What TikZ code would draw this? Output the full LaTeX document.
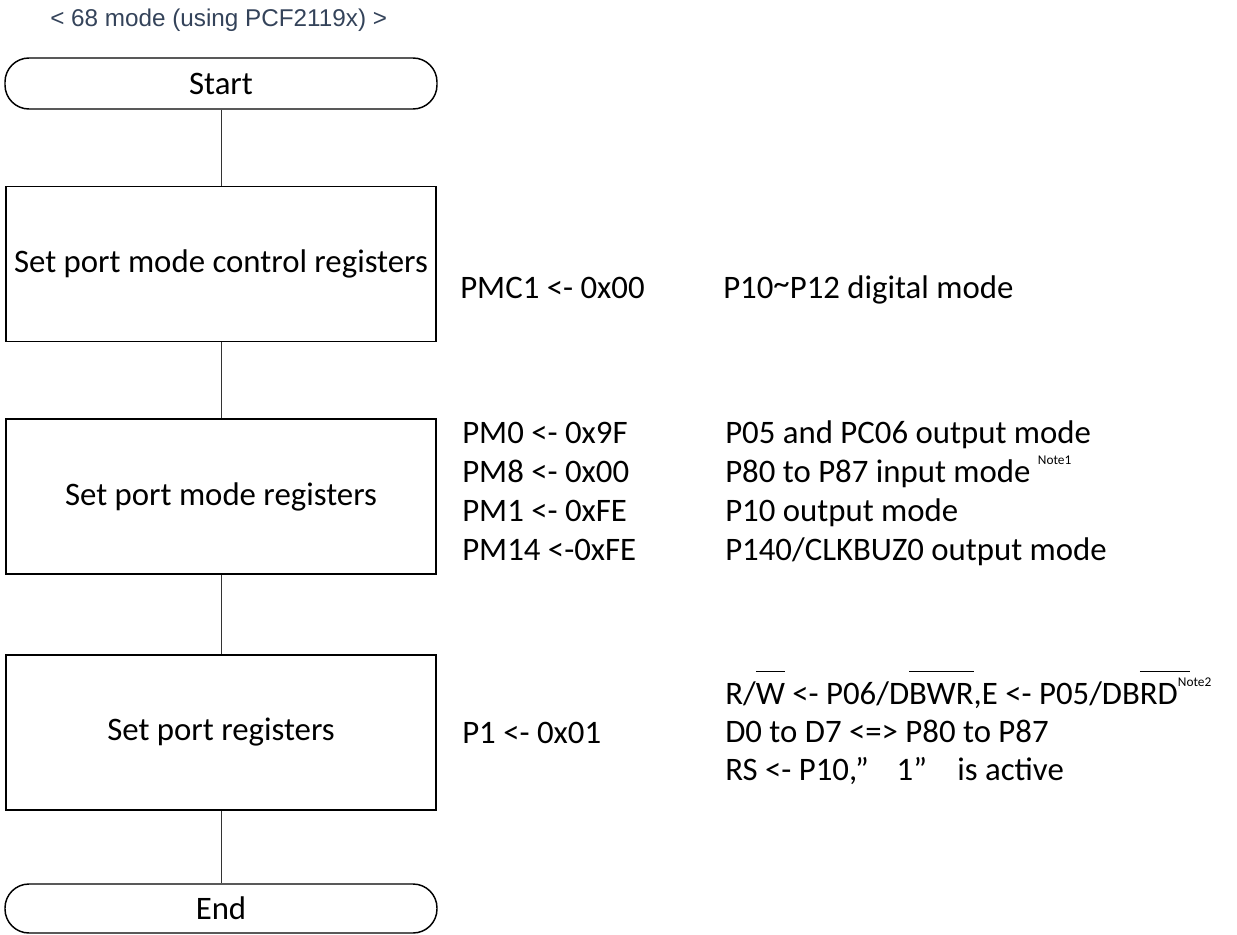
\documentclass[tikz,border=0pt]{standalone}
\usepackage{fontspec}
\setmainfont{Carlito}
\newfontfamily\titlefont{Liberation Sans}
\definecolor{titlecol}{HTML}{34435A}
\newcommand\barover[2][0pt]{\setbox0\hbox{#2}\rlap{\raisebox{0.98em}{\rule{\dimexpr\wd0+#1\relax}{0.8pt}}}\box0\relax}
\newcommand\notemark[1]{\raisebox{13.5pt}{\fontsize{10}{12}\selectfont #1}}
\begin{document}
\begin{tikzpicture}[x=0.75pt,y=-0.75pt,
  every node/.style={font=\fontsize{24.6}{29.3}\selectfont, inner sep=0pt},
  term/.style={draw, line width=1.1pt, rounded corners=18pt, minimum width=324pt, minimum height=38.25pt},
  proc/.style={draw, line width=1.1pt, minimum width=322.5pt, minimum height=116.5pt},
  link/.style={line width=0.7pt, draw=black!80},
  txt/.style={anchor=base west}]
\useasboundingbox (0,0) rectangle (1237,934);

\node[anchor=base west, text=titlecol, font=\titlefont\fontsize{18.2}{22}\selectfont] (title) at (50,27) {< 68 mode (using PCF2119x) >};

\node[term] (start) at (221,83.5) {Start};
\node[proc] (b1) at (221,264) {Set port mode control registers};
\node[proc] (b2) at (221,496.5) {Set port mode registers};
\node[proc] (b3) at (221,732.5) {Set port registers};
\node[term, minimum height=36.75pt] (end) at (221,908.5) {End};

\draw[link] (start) -- (b1);
\draw[link] (b1) -- (b2);
\draw[link] (b2) -- (b3);
\draw[link] (b3) -- (end);

\node[txt] (pmc) at (460,298) {PMC1 <- 0x00};
\node[txt] (pmcd) at (723,298) {P10\raisebox{0.12em}{\textasciitilde}P12 digital mode};

\node[txt] (pm0) at (462,443) {PM0 <- 0x9F};
\node[txt] (pm8) at (462,482) {PM8 <- 0x00};
\node[txt] (pm1) at (462,521) {PM1 <- 0xFE};
\node[txt] (pm14) at (462,560) {PM14 <-0xFE};
\node[txt] (d0) at (725,443) {P05 and PC06 output mode};
\node[txt] (d8) at (725,482) {P80 to P87 input mode \notemark{Note1}};
\node[txt] (d1) at (725,521) {P10 output mode};
\node[txt] (d14) at (725,560) {P140/CLKBUZ0 output mode};

\node[txt] (p1) at (462,743) {P1 <- 0x01};
\node[txt] (r1) at (725,704) {R/\barover{W} <- P06/D\barover{BWR},E <- P05/DB\barover[9pt]{RD}\notemark{Note2}};
\node[txt] (r2) at (725,742) {D0 to D7 <=> P80 to P87};
\node[txt] (r3) at (725,780) {RS <- P10,”\hspace{0.85em}1”\hspace{0.7em} is active};
\end{tikzpicture}
\end{document}
